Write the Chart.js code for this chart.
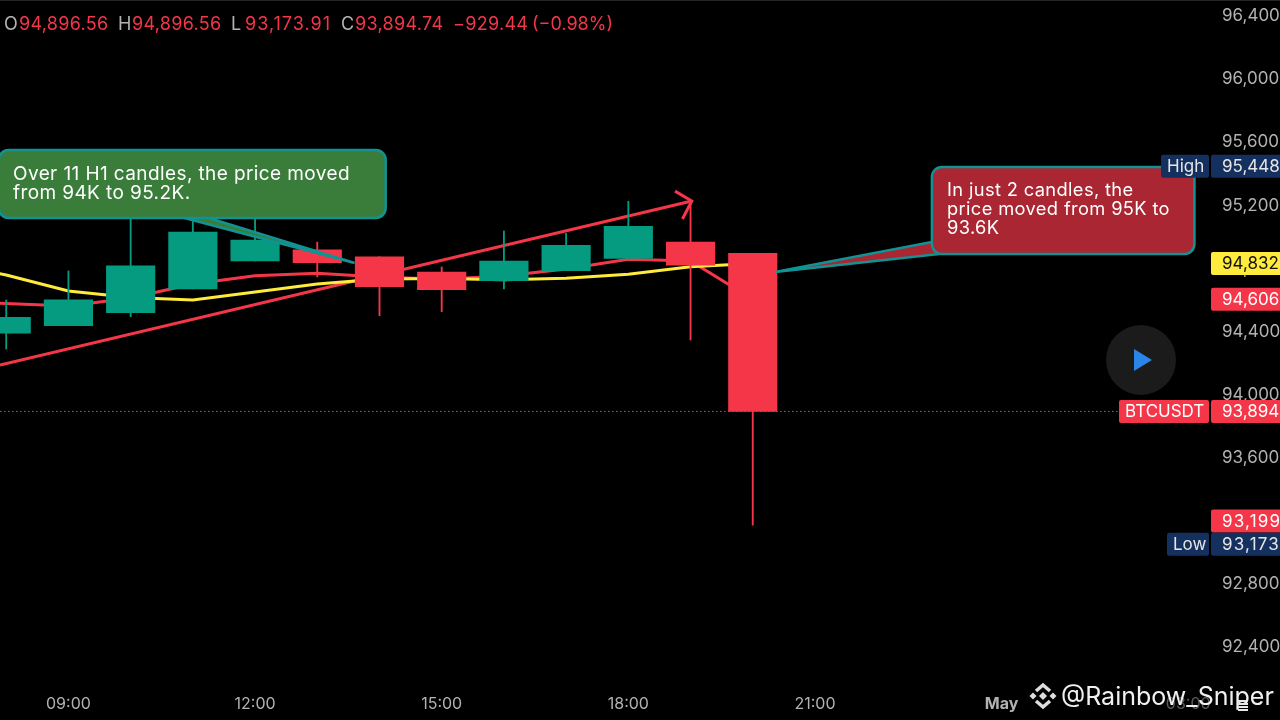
<!DOCTYPE html>
<html>
<head>
<meta charset="utf-8">
<title>BTCUSDT H1</title>
<script src="https://cdn.jsdelivr.net/npm/chart.js@4/dist/chart.umd.min.js"></script>
<style>
    body { margin: 0; background: #000; }
    canvas { display: block; }
</style>
</head>
<body>
<canvas id="priceChart" width="1280" height="720"></canvas>
<script>
// candles, hour of day (24 = May 1st 00:00)
const hours = [8, 9, 10, 11, 12, 13, 14, 15, 16, 17, 18, 19, 20];
const opens = [94390, 94438, 94520, 94671, 94848, 94918, 94875, 94778, 94723, 94787, 94865, 94968, 94896.56];
const closes = [94491, 94601, 94818, 95032, 94981, 94837, 94685, 94666, 94848, 94948, 95068, 94821, 93894.74];
const highs = [94601, 94785, 95448, 95176, 95140, 94968, 94875, 94810, 95038, 95024, 95226, 95222, 94896.56];
const lows = [94290, 94438, 94495, 94671, 94848, 94747, 94501, 94527, 94671, 94787, 94865, 94347, 93173.91];

const maHours = [7, 8, 9, 10, 11, 12, 13, 14, 15, 16, 17, 18, 19, 20];
const yellowMa = [94842, 94759, 94658, 94617, 94601, 94651, 94702, 94734, 94737, 94729, 94738, 94764, 94812, 94832];
const redMa = [94588, 94579, 94563, 94613, 94702, 94755, 94770, 94747, 94732, 94753, 94797, 94859, 94848, 94606];

// hand drawn trend arrow
const trendHours = [7.9, 19.02];
const trendPrices = [94189, 95228];
const arrowHours = [18.75, 19.02, 18.87];
const arrowPrices = [95291, 95228, 95114];

const closeLineHours = [7.9, 26.7];
const closeLinePrices = [93894, 93894];

const yTicks = [96400, 96000, 95600, 95200, 94800, 94400, 94000, 93600, 93200, 92800, 92400];
const xTicks = [9, 12, 15, 18, 21, 24, 27];
const xLabels = ["09:00", "12:00", "15:00", "18:00", "21:00", "May", "03:00"];

const GREEN = "#059B81";
const RED = "#F53649";
const NAVY = "#14305F";
const YELLOW = "#FFEB3B";
const FONT = "Inter";

const isUp = i => closes[i] >= opens[i];
const barColor = ctx => isUp(ctx.dataIndex) ? GREEN : RED;

function roundBox(c, x, y, w, h, r, fill, stroke) {
    c.beginPath();
    c.roundRect(x, y, w, h, r);
    c.fillStyle = fill;
    c.fill();
    if (stroke) {
        c.strokeStyle = stroke;
        c.lineWidth = 2.5;
        c.stroke();
    }
}

function drawCallouts(chart) {
    const c = chart.ctx;
    const px = h => chart.scales.x.getPixelForValue(h);
    const py = v => chart.scales.y.getPixelForValue(v);
    const teal = "#119394";

    // green box
    const gx = px(7.88), gy = py(95552), gw = px(14.1) - gx, gh = py(95121) - gy;
    c.save();
    c.beginPath();
    c.moveTo(px(10.82), py(95125));
    c.lineTo(px(13.6), py(94835));
    c.lineTo(px(11.22), py(95125));
    c.closePath();
    c.fillStyle = "#3A7D3A";
    c.strokeStyle = teal;
    c.lineWidth = 2.5;
    c.fill();
    c.stroke();
    roundBox(c, gx, gy, gw, gh, 10, "#3A7D3A", teal);

    // red box
    const rx = px(22.88), ry = py(95444), rw = px(27.1) - rx, rh = py(94892) - ry;
    c.beginPath();
    c.moveTo(px(22.88), py(94968));
    c.lineTo(px(20.36), py(94778));
    c.lineTo(px(23), py(94892));
    c.closePath();
    c.fillStyle = "#A92632";
    c.strokeStyle = teal;
    c.lineWidth = 2.5;
    c.fill();
    c.stroke();
    roundBox(c, rx, ry, rw, rh, 10, "#A92632", teal);

    c.fillStyle = "#FFFFFF";
    c.font = `19px ${FONT}`;
    c.letterSpacing = "0.4px";
    c.textBaseline = "middle";
    c.textAlign = "left";
    c.fillText("Over 11 H1 candles, the price moved", 13, 174);
    c.fillText("from 94K to 95.2K.", 13, 193);
    c.font = `18.3px ${FONT}`;
    c.letterSpacing = "0.36px";
    c.fillText("In just 2 candles, the", 947, 191);
    c.fillText("price moved from 95K to", 947, 210);
    c.fillText("93.6K", 947, 229);
    c.restore();
}

function priceTag(c, y, text, bg, color, side) {
    roundBox(c, 1211, y - 11.5, 69, 23, [2, 0, 0, 2], bg);
    c.fillStyle = color;
    // the 1 is narrow in this font, the original digits are all one width
    c.letterSpacing = text.includes("1") ? "1.2px" : "0px";
    c.fillText(text, 1222, y + 0.5);
    c.letterSpacing = "0px";
    if (side) {
        const w = side === "BTCUSDT" ? 90 : (side === "High" ? 48 : 42);
        roundBox(c, 1209 - w, y - 11.5, w, 23, 2, bg);
        c.fillStyle = color;
        c.fillText(side, 1209 - w + 6, y + 0.5);
    }
}

function drawOverlay(chart) {
    const c = chart.ctx;
    const py = v => chart.scales.y.getPixelForValue(v);
    c.save();
    c.textBaseline = "middle";
    c.textAlign = "left";

    // top strip
    c.fillStyle = "#242424";
    c.fillRect(0, 0, 1280, 1);

    // OHLC header
    c.font = `18px ${FONT}`;
    const parts = [
        ["O", 4, "#B2B2B2"], ["94,896.56", 19, RED],
        ["H", 118, "#B2B2B2"], ["94,896.56", 132, RED],
        ["L", 231, "#B2B2B2"], ["93,173.91", 245, RED, "1px"],
        ["C", 341, "#B2B2B2"], ["93,894.74", 355, RED],
        ["\u2212929.44", 453, RED], ["(\u22120.98%)", 532, RED, "0px"]
    ];
    parts.forEach(p => {
        c.fillStyle = p[2];
        c.letterSpacing = p[3] || "0.3px";
        c.fillText(p[0], p[1], 25);
    });

    // price tags
    c.font = `17px ${FONT}`;
    priceTag(c, py(95448), "95,448", NAVY, "#E6E6E6", "High");
    priceTag(c, py(94832), "94,832", YELLOW, "#111111");
    priceTag(c, py(94606), "94,606", RED, "#FFFFFF");
    priceTag(c, py(93894), "93,894", RED, "#FFFFFF", "BTCUSDT");
    priceTag(c, py(93199), "93,199", RED, "#FFFFFF");
    priceTag(c, py(93173) + 19, "93,173", NAVY, "#E6E6E6", "Low");

    // play button
    c.beginPath();
    c.arc(1141, 360, 35, 0, Math.PI * 2);
    c.fillStyle = "#1B1B1B";
    c.fill();
    c.beginPath();
    c.moveTo(1134, 349);
    c.lineTo(1152, 360);
    c.lineTo(1134, 371);
    c.closePath();
    c.fillStyle = "#2B84E8";
    c.fill();

    // watermark
    c.fillStyle = "#DDDDDD";
    const diamond = (x, y, r) => {
        c.beginPath();
        c.moveTo(x, y - r);
        c.lineTo(x + r, y);
        c.lineTo(x, y + r);
        c.lineTo(x - r, y);
        c.closePath();
        c.fill();
    };
    diamond(1043, 696, 4);
    diamond(1033, 696, 3.5);
    diamond(1053, 696, 3.5);
    c.strokeStyle = "#DDDDDD";
    c.lineWidth = 3.5;
    c.beginPath();
    c.moveTo(1036, 691);
    c.lineTo(1043, 685);
    c.lineTo(1050, 691);
    c.moveTo(1036, 701);
    c.lineTo(1043, 707);
    c.lineTo(1050, 701);
    c.stroke();

    c.fillStyle = "#F0F0F0";
    c.font = `25px ${FONT}`;
    c.fillText("@Rainbow_Sniper", 1061, 697);

    // small white fleck over the watermark, bottom right
    c.fillStyle = "#E8E8E8";
    for (let i = 0; i < 4; i++) c.fillRect(1238, 700 + i * 3, 10, 2);
    c.restore();
}

const overlayPlugin = {
    id: "overlay",
    afterDatasetsDraw: drawCallouts,
    afterDraw: drawOverlay
};

function xy(xs, ys) {
    return xs.map((x, i) => ({ x: x, y: ys[i] }));
}

const bodies = hours.map((h, i) => ({ x: h, y: [opens[i], closes[i]] }));
const wicks = hours.map((h, i) => ({ x: h, y: [lows[i], highs[i]] }));

new Chart(document.getElementById("priceChart"), {
    type: "bar",
    data: {
        datasets: [
            { data: bodies, barThickness: 48.5, backgroundColor: barColor, grouped: false, order: 1 },
            { data: wicks, barThickness: 1.2, backgroundColor: barColor, grouped: false, order: 2 },
            { type: "line", data: xy(maHours, yellowMa), borderColor: YELLOW, borderWidth: 3, pointRadius: 0, order: 3 },
            { type: "line", data: xy(maHours, redMa), borderColor: RED, borderWidth: 3, pointRadius: 0, order: 4 },
            { type: "line", data: xy(trendHours, trendPrices), borderColor: RED, borderWidth: 3, pointRadius: 0, order: 5 },
            { type: "line", data: xy(arrowHours, arrowPrices), borderColor: RED, borderWidth: 3, pointRadius: 0, order: 0 },
            { type: "line", data: xy(closeLineHours, closeLinePrices), borderColor: RED, borderWidth: 1, borderDash: [1.5, 2.5], pointRadius: 0, order: 6 }
        ]
    },
    plugins: [overlayPlugin],
    options: {
        responsive: false,
        animation: false,
        layout: { padding: 0, autoPadding: false },
        plugins: { legend: { display: false }, tooltip: { enabled: false } },
        scales: {
            x: {
                type: "linear",
                offset: false,
                min: 7.9,
                max: 27.35,
                border: { display: false },
                grid: { display: false, drawTicks: false, offset: false },
                afterBuildTicks: s => { s.ticks = xTicks.map(v => ({ value: v })); },
                afterFit: s => { s.height = 35; },
                ticks: {
                    maxRotation: 0,
                    autoSkip: false,
                    padding: 10,
                    callback: v => xLabels[xTicks.indexOf(v)],
                    color: ctx => ctx.tick && ctx.tick.value === 27 ? "#5A5A5A" : "#B2B2B2",
                    font: ctx => ({ family: FONT, size: 16, weight: ctx.tick && ctx.tick.value === 24 ? "bold" : "normal" })
                }
            },
            y: {
                position: "right",
                min: 92160,
                max: 96502.5,
                border: { display: false },
                grid: { display: false, drawTicks: false },
                afterBuildTicks: s => { s.ticks = yTicks.map(v => ({ value: v })); },
                afterFit: s => {
                    s.width = 70;
                    // tick padding otherwise eats into the top and bottom of the plot
                    s.paddingTop = s.paddingBottom = 0;
                    s._margins.top = s._margins.bottom = 0;
                },
                ticks: {
                    padding: 12,
                    autoSkip: false,
                    callback: v => v.toLocaleString("en-US"),
                    color: "#B2B2B2",
                    font: { family: FONT, size: 17 }
                }
            }
        }
    }
});
</script>
</body>
</html>
